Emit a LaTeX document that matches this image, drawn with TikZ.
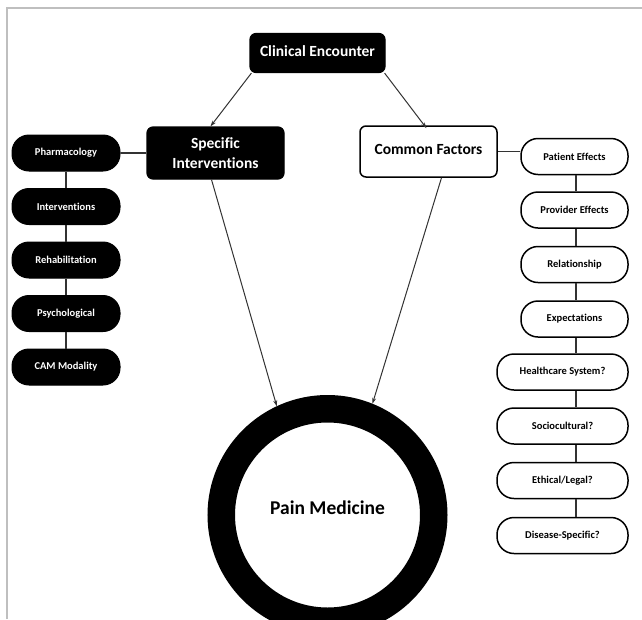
\documentclass[tikz,border=0pt]{standalone}
\usepackage{fontspec}
\setmainfont{Carlito}[Ligatures=NoCommon]
\usetikzlibrary{arrows.meta}
\begin{document}
\begin{tikzpicture}[x=1pt,y=-1pt,
  blackbox/.style={draw=black,fill=black,text=white,rounded corners=6pt,line width=1.2pt,font=\bfseries\fontsize{15.5}{20}\selectfont,align=center,inner sep=0pt},
  whitebox/.style={draw=black,fill=white,text=black,rounded corners=6pt,line width=1.5pt,font=\bfseries\fontsize{15.5}{20}\selectfont,align=center,inner sep=0pt},
  blackpill/.style={draw=black,fill=black,text=white,rounded corners=17pt,line width=1pt,minimum height=36pt,font=\bfseries\fontsize{10.5}{12}\selectfont,inner sep=0pt},
  whitepill/.style={draw=black,fill=white,text=black,rounded corners=17pt,line width=1.5pt,minimum height=36pt,font=\bfseries\fontsize{10.5}{12}\selectfont,inner sep=0pt},
  link/.style={draw=black!80,line width=1.2pt},
  arr/.style={draw=black!80,line width=1pt,-{Stealth[length=6pt,width=4pt]}}
]
\useasboundingbox (0,0) rectangle (642,619);
\fill[white] (0,0) rectangle (642,619);
\draw[black!25,line width=1.5pt] (7,619) -- (7,8) -- (642,8);

% main boxes
\node[blackbox,minimum width=135pt,minimum height=39pt] (ce) at (317.5,53) {\raisebox{3pt}{Clinical Encounter}};
\node[blackbox,minimum width=137pt,minimum height=52pt] (si) at (215.5,153) {Specific\\Interventions};
\node[whitebox,minimum width=137pt,minimum height=51pt] (cf) at (428.5,151.5) {\raisebox{5pt}{Common Factors}};

% ring
\node[circle,draw=black,line width=27.5pt,minimum size=212.5pt,inner sep=0pt,font=\bfseries\fontsize{19.5}{22}\selectfont] (pm) at (327.5,515) {\raisebox{14pt}{Pain Medicine}};

% left column
\node[blackpill,minimum width=108pt] (l1) at (66,153) {Pharmacology};
\node[blackpill,minimum width=108pt] (l2) at (66,206.5) {Interventions};
\node[blackpill,minimum width=108pt] (l3) at (66,260) {Rehabilitation};
\node[blackpill,minimum width=108pt] (l4) at (66,313.5) {Psychological};
\node[blackpill,minimum width=108pt] (l5) at (66,367) {CAM Modality};

% right column
\node[whitepill,minimum width=107pt] (r1) at (574.5,156.5) {Patient Effects};
\node[whitepill,minimum width=107pt] (r2) at (574.5,210) {Provider Effects};
\node[whitepill,minimum width=107pt] (r3) at (574.5,264.5) {Relationship};
\node[whitepill,minimum width=107pt] (r4) at (574.5,319) {Expectations};
\node[whitepill,minimum width=131pt] (r5) at (562.5,372) {Healthcare System?};
\node[whitepill,minimum width=131pt] (r6) at (562.5,426) {Sociocultural?};
\node[whitepill,minimum width=131pt] (r7) at (562.5,480.5) {Ethical/Legal?};
\node[whitepill,minimum width=131pt] (r8) at (562.5,535.5) {Disease-Specific?};

% links
\draw[link] (si.west) -- (si.west -| l1.east);
\draw[link] (cf.east) -- (cf.east -| r1.west);
\draw[link] (l1.south) -- (l2.north);
\draw[link] (l2.south) -- (l3.north);
\draw[link] (l3.south) -- (l4.north);
\draw[link] (l4.south) -- (l5.north);
\draw[link] ([xshift=1.5pt]r1.south) -- ([xshift=1.5pt]r2.north);
\draw[link] ([xshift=1.5pt]r2.south) -- ([xshift=1.5pt]r3.north);
\draw[link] ([xshift=1.5pt]r3.south) -- ([xshift=1.5pt]r4.north);
\draw[link] ([xshift=1.5pt]r4.south) -- ([xshift=1.5pt]r4.south |- r5.north);
\draw[link] ([xshift=1.5pt]r4.south |- r5.south) -- ([xshift=1.5pt]r4.south |- r6.north);
\draw[link] ([xshift=1.5pt]r4.south |- r6.south) -- ([xshift=1.5pt]r4.south |- r7.north);
\draw[link] ([xshift=1.5pt]r4.south |- r7.south) -- ([xshift=1.5pt]r4.south |- r8.north);

% arrows
\draw[arr] ([xshift=2pt]ce.south west) -- ([xshift=-5pt]si.north);
\draw[arr] ([xshift=-1pt]ce.south east) -- ([xshift=-2pt,yshift=-3pt]cf.north);
\draw[arr] ([xshift=-4pt]si.south) -- (pm.115);
\draw[arr] ([xshift=13pt]cf.south) -- (pm.68);
\end{tikzpicture}
\end{document}
